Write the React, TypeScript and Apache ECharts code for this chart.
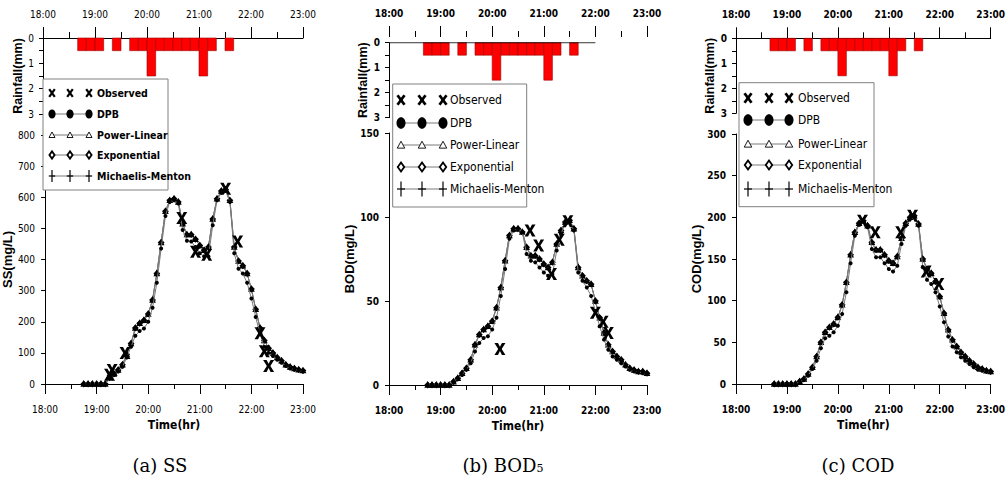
import React, { useEffect, useRef } from "react";
import * as echarts from "echarts";

// ---------- data ----------
const modelTimes = [
  "18:45", "18:50", "18:55",
  "19:00", "19:05", "19:10", "19:15", "19:20", "19:25", "19:30", "19:35", "19:40", "19:45", "19:50", "19:55",
  "20:00", "20:05", "20:10", "20:15", "20:20", "20:25", "20:30", "20:35", "20:40", "20:45", "20:50", "20:55",
  "21:00", "21:05", "21:10", "21:15", "21:20", "21:25", "21:30", "21:35", "21:40", "21:45", "21:50", "21:55",
  "22:00", "22:05", "22:10", "22:15", "22:20", "22:25", "22:30", "22:35", "22:40", "22:45", "22:50", "22:55",
  "23:00",
];

const ssDPB = [0, 0, 0, 0, 0, 0, 18, 30, 40, 55, 85, 120, 155, 170, 178, 200, 245, 325, 435, 540, 585, 590, 580, 495, 460, 458, 440, 420, 410, 410, 510, 590, 615, 620, 585, 420, 370, 355, 325, 275, 215, 160, 120, 100, 90, 78, 68, 58, 50, 46, 44, 40];
const ssOthers = [0, 0, 0, 0, 0, 0, 20, 32, 45, 62, 95, 130, 180, 195, 205, 225, 270, 355, 455, 555, 590, 595, 585, 515, 480, 480, 465, 445, 430, 440, 530, 595, 620, 625, 590, 440, 395, 380, 355, 305, 240, 180, 140, 115, 100, 85, 75, 62, 55, 50, 46, 43];
const ssObsTimes = ["19:15", "19:18", "19:33", "20:39", "20:55", "21:08", "21:30", "21:44", "22:10", "22:15", "22:20"];
const ssObs = [30, 45, 100, 533, 425, 415, 627, 458, 163, 105, 58];

const bodDPB = [0, 0, 0, 0, 0, 0, 2, 4, 6, 9, 13, 20, 25, 28, 29, 33, 40, 53, 69, 87, 92, 93, 91, 78, 74, 73, 70, 67, 65, 66, 80, 90, 96, 97, 92, 67, 62, 58, 53, 44, 35, 27, 21, 17, 15, 13, 11, 9, 8, 8, 7, 7];
const bodOthers = [0, 0, 0, 0, 0, 0, 2, 4, 7, 10, 15, 24, 30, 33, 35, 38, 46, 58, 74, 89, 93, 93, 91, 82, 77, 77, 75, 72, 70, 73, 84, 92, 97, 98, 93, 70, 65, 62, 60, 50, 40, 31, 24, 20, 17, 15, 12, 10, 9, 8, 8, 7];
const bodObsTimes = ["20:09", "20:44", "20:54", "21:09", "21:18", "21:28", "22:00", "22:09", "22:15"];
const bodObs = [21.5, 92, 83, 66, 86.5, 97.5, 43, 37.6, 31];

const codDPB = [0, 0, 0, 0, 0, 0, 3, 5, 10, 18, 28, 43, 55, 58, 62, 70, 84, 110, 145, 178, 192, 195, 188, 162, 152, 152, 145, 138, 135, 142, 168, 190, 198, 200, 190, 140, 125, 120, 110, 93, 74, 57, 45, 38, 32, 28, 24, 20, 17, 16, 15, 14];
const codOthers = [0, 0, 0, 0, 0, 0, 3, 6, 12, 20, 33, 50, 62, 68, 72, 80, 95, 122, 155, 182, 193, 196, 190, 170, 161, 161, 155, 148, 145, 153, 175, 193, 200, 202, 192, 150, 138, 133, 123, 105, 85, 65, 53, 45, 38, 33, 28, 24, 20, 18, 16, 15];
const codObsTimes = ["20:29", "20:44", "21:14", "21:28", "21:44", "21:59"];
const codObs = [196, 182, 182, 202, 135, 120];

const rainStarts = ["18:40", "18:50", "19:00", "19:20", "19:40", "19:50", "20:00", "20:10", "20:20", "20:30", "20:40", "20:50", "21:00", "21:10", "21:30"];
const rainValues = [0.5, 0.5, 0.5, 0.5, 0.5, 0.5, 1.5, 0.5, 0.5, 0.5, 0.5, 0.5, 1.5, 0.5, 0.5];
const RAIN_STEP_MIN = 10;

const timeTicks = ["18:00", "19:00", "20:00", "21:00", "22:00", "23:00"];
const legendNames = ["Observed", "DPB", "Power-Linear", "Exponential", "Michaelis-Menton"];
const captions = ["(a) SS", "(b) BOD", "(c) COD"];

// ---------- helpers ----------
const toH = (s: string) => {
  const [h, m] = s.split(":").map(Number);
  return h + m / 60;
};
const fmtTime = (v: number) => `${Math.round(v)}:00`;

const FONT_N = "'Liberation Sans Narrow', 'DejaVu Sans Condensed', 'Liberation Sans', sans-serif";
const FONT_B = "'Liberation Sans', Arial, sans-serif";
const LINE_GRAY = "#7a7a7a";

const X_PATH = "path://M0,0L3.2,0L5,3.2L6.8,0L10,0L6.6,5L10,10L6.8,10L5,6.8L3.2,10L0,10L3.4,5Z";
const PLUS_PATH = "path://M4,0H6V4H10V6H6V10H4V6H0V4H4Z";

const panels = [
  {
    left: 43, width: 260, rainTop: 38, rainH: 76, mainTop: 135, mainH: 249,
    ymax: 800, yint: 100, yname: "SS(mg/L)", rainGap: 17, mainGap: 25,
    topOffset: 0, topLine: true, bold: false,
    dpb: ssDPB, others: ssOthers, obsT: ssObsTimes, obs: ssObs,
    legend: { x: 43, y: 79, w: 125, h: 111, rows: [93, 114, 135, 155, 176], sx: [52, 70, 89], tx: 97, s: 1, fs: 10.5, fw: "bold" },
    capX: 160,
  },
  {
    left: 389, width: 258, rainTop: 42.7, rainH: 75, mainTop: 133, mainH: 252,
    ymax: 150, yint: 50, yname: "BOD(mg/L)", rainGap: 18, mainGap: 25,
    topOffset: 5.7, topLine: false, bold: true,
    dpb: bodDPB, others: bodOthers, obsT: bodObsTimes, obs: bodObs,
    legend: { x: 392.7, y: 84, w: 134, h: 123, rows: [100, 123, 145, 167, 189], sx: [401, 422, 443], tx: 450, s: 1.25, fs: 12, fw: "normal" },
    capX: 503,
  },
  {
    left: 736, width: 255, rainTop: 38.3, rainH: 75, mainTop: 134, mainH: 250,
    ymax: 300, yint: 50, yname: "COD(mg/L)", rainGap: 20, mainGap: 27,
    topOffset: 0, topLine: true, bold: true,
    dpb: codDPB, others: codOthers, obsT: codObsTimes, obs: codObs,
    legend: { x: 739, y: 82.7, w: 135, h: 124, rows: [98, 120, 144, 165, 189], sx: [748, 769, 789], tx: 798, s: 1.25, fs: 12, fw: "normal" },
    capX: 858,
  },
];

function legendEls(L: any) {
  const els: any[] = [];
  const Z = 100;
  els.push({ type: "rect", z: Z, shape: { x: L.x, y: L.y, width: L.w, height: L.h }, style: { fill: "#fff", stroke: "#808080", lineWidth: 1 } });
  legendNames.forEach((name, k) => {
    const cy = L.rows[k];
    const s = L.s;
    if (k > 0) {
      els.push({ type: "line", z: Z + 1, shape: { x1: L.sx[0], y1: cy, x2: L.sx[2], y2: cy }, style: { stroke: LINE_GRAY, lineWidth: 1 } });
    }
    L.sx.forEach((cx: number) => {
      if (k === 0) {
        const hw = 2.8 * s, hh = 3.8 * s;
        els.push({ type: "line", z: Z + 2, shape: { x1: cx - hw, y1: cy - hh, x2: cx + hw, y2: cy + hh }, style: { stroke: "#000", lineWidth: 2.2 * s } });
        els.push({ type: "line", z: Z + 2, shape: { x1: cx + hw, y1: cy - hh, x2: cx - hw, y2: cy + hh }, style: { stroke: "#000", lineWidth: 2.2 * s } });
      } else if (k === 1) {
        els.push({ type: "ellipse", z: Z + 2, shape: { cx, cy, rx: 3.6 * s, ry: 4.6 * s }, style: { fill: "#000" } });
      } else if (k === 2) {
        els.push({ type: "polygon", z: Z + 2, shape: { points: [[cx, cy - 3 * s], [cx - 3 * s, cy + 2.5 * s], [cx + 3 * s, cy + 2.5 * s]] }, style: { fill: "#fff", stroke: "#000", lineWidth: 0.9 } });
      } else if (k === 3) {
        els.push({ type: "polygon", z: Z + 2, shape: { points: [[cx, cy - 3.6 * s], [cx + 2.6 * s, cy], [cx, cy + 3.6 * s], [cx - 2.6 * s, cy]] }, style: { fill: "#fff", stroke: "#000", lineWidth: 1.8 } });
      } else {
        els.push({ type: "line", z: Z + 2, shape: { x1: cx, y1: cy - 6 * s, x2: cx, y2: cy + 6 * s }, style: { stroke: "#000", lineWidth: 1.2 } });
        els.push({ type: "line", z: Z + 2, shape: { x1: cx - 3.2 * s, y1: cy, x2: cx + 3.2 * s, y2: cy }, style: { stroke: "#000", lineWidth: 1.2 } });
      }
    });
    els.push({
      type: "text", z: Z + 3, x: L.tx, y: cy,
      style: { text: name, fontSize: L.fs, fontFamily: FONT_N, fontWeight: L.fw, fill: "#000", align: "left", verticalAlign: "middle" },
    });
  });
  return els;
}

function buildOption() {
  const grid: any[] = [];
  const xAxis: any[] = [];
  const yAxis: any[] = [];
  const series: any[] = [];
  const graphic: any[] = [];
  const tMin = toH(timeTicks[0]);
  const tMax = toH(timeTicks[timeTicks.length - 1]);
  const black = { color: "#000", width: 1 };

  panels.forEach((p, i) => {
    const gi = 2 * i;
    const lblFont = { fontSize: 10, fontFamily: FONT_N, color: "#000", fontWeight: p.bold ? "bold" : "normal" };
    grid.push({ left: p.left, top: p.rainTop, width: p.width, height: p.rainH });
    grid.push({ left: p.left, top: p.mainTop, width: p.width, height: p.mainH });

    xAxis.push({
      type: "value", gridIndex: gi, position: "top", min: tMin, max: tMax, interval: 1, offset: p.topOffset,
      axisLine: { show: p.topLine, onZero: false, lineStyle: black },
      axisTick: { show: true, length: 11, lineStyle: black },
      minorTick: { show: true, splitNumber: 2, length: 6, lineStyle: black },
      axisLabel: { formatter: fmtTime, margin: 19, ...lblFont },
      splitLine: { show: false }, minorSplitLine: { show: false },
    });
    xAxis.push({
      type: "value", gridIndex: gi + 1, position: "bottom", min: tMin, max: tMax, interval: 1,
      name: "Time(hr)", nameLocation: "middle", nameGap: 32,
      nameTextStyle: { fontSize: 12, fontFamily: FONT_N, fontWeight: "bold", color: "#000" },
      axisLine: { show: true, onZero: false, lineStyle: black },
      axisTick: { show: true, length: 10, lineStyle: black },
      minorTick: { show: true, splitNumber: 2, length: 5, lineStyle: black },
      axisLabel: { formatter: fmtTime, margin: 20, ...lblFont },
      splitLine: { show: false },
    });
    yAxis.push({
      type: "value", gridIndex: gi, inverse: true, min: 0, max: 3, interval: 1,
      name: "Rainfall(mm)", nameLocation: "middle", nameGap: p.rainGap,
      nameTextStyle: { fontSize: 12.5, fontFamily: FONT_B, fontWeight: "bold", color: "#000" },
      axisLine: { show: true, onZero: false, lineStyle: black },
      axisTick: { show: true, length: 4, lineStyle: black },
      minorTick: { show: true, splitNumber: 2, length: 4, lineStyle: black },
      axisLabel: { margin: 9, ...lblFont },
      splitLine: { show: false },
    });
    yAxis.push({
      type: "value", gridIndex: gi + 1, min: 0, max: p.ymax, interval: p.yint,
      name: p.yname, nameLocation: "middle", nameGap: p.mainGap,
      nameTextStyle: { fontSize: 13, fontFamily: FONT_B, fontWeight: "bold", color: "#000" },
      axisLine: { show: true, onZero: false, lineStyle: black },
      axisTick: { show: true, length: 4, lineStyle: black },
      axisLabel: { margin: 10, ...lblFont },
      splitLine: { show: false },
    });

    // rainfall hyetograph
    series.push({
      type: "custom", name: "Rainfall", xAxisIndex: gi, yAxisIndex: gi,
      data: rainStarts.map((t, k) => [toH(t), toH(t) + RAIN_STEP_MIN / 60, rainValues[k]]),
      encode: { x: [0, 1], y: 2 },
      renderItem: (_params: any, api: any) => {
        const p0 = api.coord([api.value(0), 0]);
        const p1 = api.coord([api.value(1), api.value(2)]);
        return {
          type: "rect",
          shape: { x: p0[0], y: p0[1], width: p1[0] - p0[0], height: p1[1] - p0[1] },
          style: { fill: "#ff0000", stroke: "#9a0000", lineWidth: 0.6 },
        };
      },
      z: 3,
    });
    if (!p.topLine) {
      series.push({
        type: "line", name: "rain-zero", xAxisIndex: gi, yAxisIndex: gi,
        data: [[tMin, 0], [toH("22:00"), 0]], symbol: "none", silent: true,
        lineStyle: { color: "#000", width: 1 }, z: 4,
      });
    }

    const mk = (vals: number[]) => modelTimes.map((t, k) => [toH(t), vals[k]]);
    const lineBase = { type: "line", xAxisIndex: gi + 1, yAxisIndex: gi + 1, lineStyle: { color: LINE_GRAY, width: 1 }, showSymbol: true };
    series.push({ ...lineBase, name: "DPB", data: mk(p.dpb), symbol: "circle", symbolSize: 4, itemStyle: { color: "#000", opacity: 1 }, z: 5 });
    series.push({ ...lineBase, name: "Power-Linear", data: mk(p.others), symbol: "emptyTriangle", symbolSize: 3.5, itemStyle: { color: "#000", borderWidth: 0.8 }, z: 4 });
    series.push({ ...lineBase, name: "Exponential", data: mk(p.others), symbol: "emptyDiamond", symbolSize: 4, itemStyle: { color: "#000", borderWidth: 1 }, z: 4 });
    series.push({ ...lineBase, name: "Michaelis-Menton", data: mk(p.others), symbol: PLUS_PATH, symbolSize: 4.5, itemStyle: { color: "#000" }, z: 4 });
    series.push({
      type: "scatter", name: "Observed", xAxisIndex: gi + 1, yAxisIndex: gi + 1,
      data: p.obsT.map((t, k) => [toH(t), p.obs[k]]),
      symbol: X_PATH, symbolSize: [11, 12], itemStyle: { color: "#000", opacity: 1 }, z: 8,
    });

    graphic.push(...legendEls(p.legend));

    const capText = i === 1 ? `{m|${captions[i]}}{s|5}` : `{m|${captions[i]}}`;
    graphic.push({
      type: "text", x: p.capX, y: 465, z: 50,
      style: {
        text: capText, align: "center", verticalAlign: "middle", fill: "#000",
        rich: {
          m: { fontSize: 18, fontFamily: "'DejaVu Serif', 'Liberation Serif', serif", fill: "#000", verticalAlign: "bottom" },
          s: { fontSize: 11, fontFamily: "'DejaVu Serif', 'Liberation Serif', serif", fill: "#000", verticalAlign: "bottom" },
        },
      },
    });
  });

  return {
    animation: false,
    backgroundColor: "#fff",
    grid, xAxis, yAxis, series, graphic,
  };
}

export default function App() {
  const ref = useRef<HTMLDivElement>(null);
  useEffect(() => {
    if (!ref.current) return;
    const chart = echarts.init(ref.current, undefined, { renderer: "svg" });
    chart.setOption(buildOption() as any);
    return () => chart.dispose();
  }, []);
  return <div ref={ref} style={{ position: "absolute", left: 0, top: 0, width: 1008, height: 481 }} />;
}
